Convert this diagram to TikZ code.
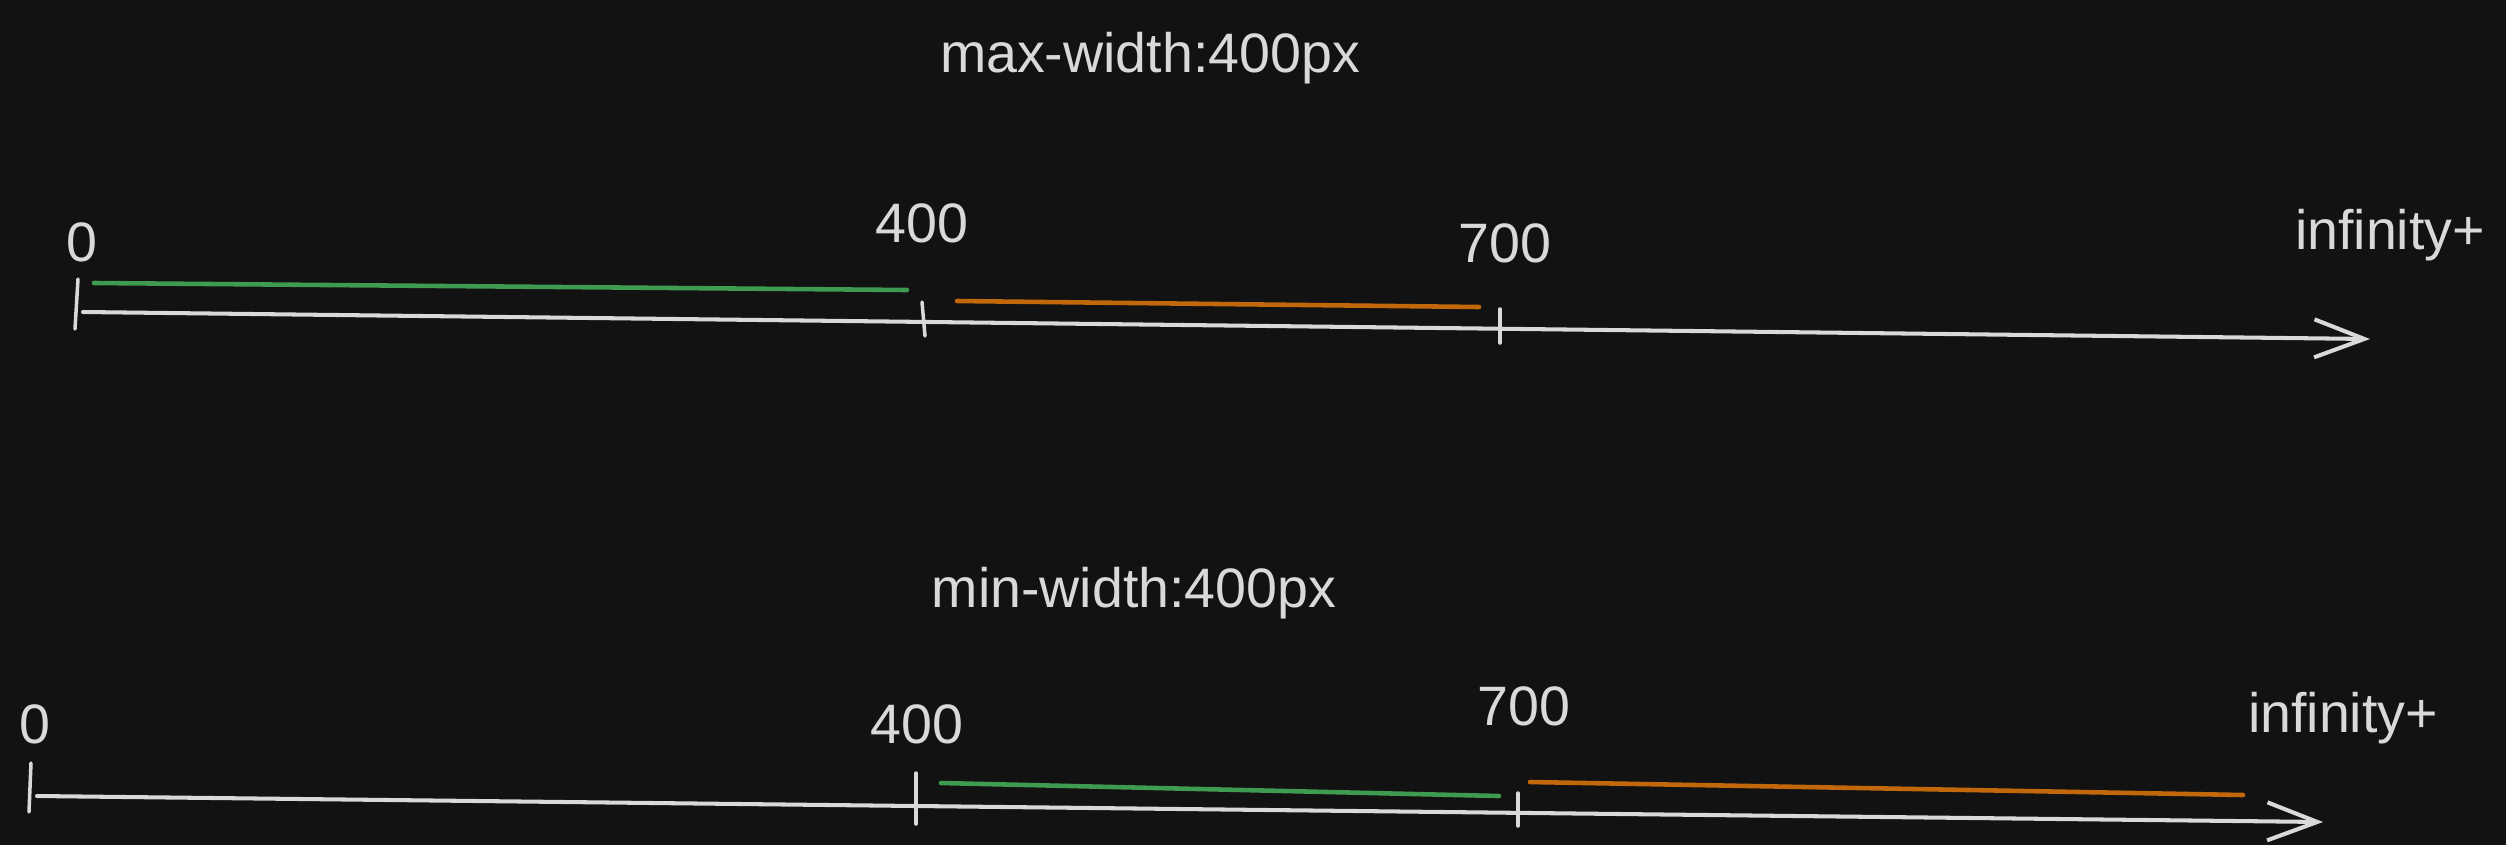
\documentclass[tikz,border=0pt]{standalone}
\usepackage{fontspec}
\setmainfont{Liberation Sans}
\usepackage{xcolor}
\usepackage{tikz}
\usetikzlibrary{arrows.meta}
\definecolor{bgdark}{HTML}{121212}
\definecolor{inkgray}{HTML}{D9D9D9}
\definecolor{mqgreen}{HTML}{3E9B4F}
\definecolor{mqorange}{HTML}{C2680A}

\begin{document}
\begin{tikzpicture}[x=0.01cm, y=-0.01cm,
  axisline/.style={draw=inkgray, line width=1.15pt, line cap=round,
    -{Straight Barb[length=5mm, width=3.8mm, line width=1.15pt]}},
  tickline/.style={draw=inkgray, line width=1pt, line cap=round},
  rangebar/.style={line width=1.3pt, line cap=round},
  lbl/.style={text=inkgray, font=\fontsize{15.8}{19}\selectfont, anchor=base, inner sep=0pt}]
\fill[bgdark] (0,0) rectangle (2506,845);
\useasboundingbox (0,0) rectangle (2506,845);

% max-width line
\node[lbl] (maxtitle) at (1150,72) {max-width:400px};
\coordinate (maxstart) at (83,312);
\coordinate (maxend) at (2370,339);
\draw[axisline] (maxstart) -- (maxend);
\foreach \nm/\xa/\ya/\xb/\yb in {maxzero/78/279/75/329, maxfour/922/302/925/336, maxseven/1500/309/1500/343}{
\coordinate (\nm top) at (\xa,\ya);
\coordinate (\nm bot) at (\xb,\yb);
\draw[tickline] (\nm top) -- (\nm bot);
}
\coordinate (maxgreenA) at (94,283);
\coordinate (maxgreenB) at (907,290);
\coordinate (maxorangeA) at (957,301);
\coordinate (maxorangeB) at (1479,307);
\draw[rangebar, mqgreen] (maxgreenA) -- (maxgreenB);
\draw[rangebar, mqorange] (maxorangeA) -- (maxorangeB);

% min-width line
\node[lbl] (mintitle) at (1134,607) {min-width:400px};
\coordinate (minstart) at (37,796);
\coordinate (minend) at (2323,822);
\draw[axisline] (minstart) -- (minend);
\foreach \nm/\xa/\ya/\xb/\yb in {minzero/31/763/29/812, minfour/916/773/916/824, minseven/1518/793/1518/826}{
\coordinate (\nm top) at (\xa,\ya);
\coordinate (\nm bot) at (\xb,\yb);
\draw[tickline] (\nm top) -- (\nm bot);
}
\coordinate (mingreenA) at (941,783);
\coordinate (mingreenB) at (1499,796);
\coordinate (minorangeA) at (1530,782);
\coordinate (minorangeB) at (2243,795);
\draw[rangebar, mqgreen] (mingreenA) -- (mingreenB);
\draw[rangebar, mqorange] (minorangeA) -- (minorangeB);

% tick labels
\foreach \nm/\x/\y/\txt in {maxlblzero/82/261/0, maxlblfour/922/242/400, maxlblseven/1505/262/700, maxlblinf/2390/249/infinity+,
  minlblzero/35/743/0, minlblfour/917/743/400, minlblseven/1524/725/700, minlblinf/2343/732/infinity+}{
\node[lbl] (\nm) at (\x,\y) {\txt};
}
\end{tikzpicture}
\end{document}
